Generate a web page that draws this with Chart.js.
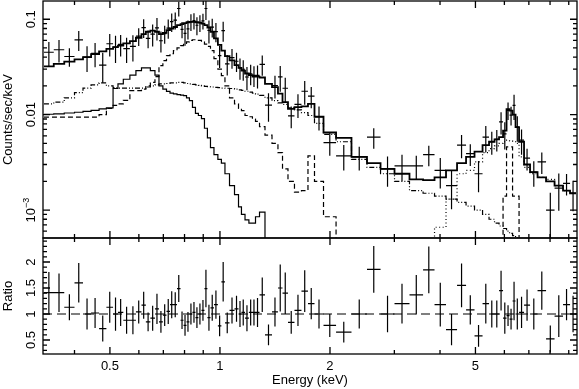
<!DOCTYPE html>
<html>
<head>
<meta charset="utf-8">
<script src="https://cdn.jsdelivr.net/npm/chart.js@4.4.1/dist/chart.umd.min.js"></script>
<style>
  html, body { margin: 0; padding: 0; background: #fff; }
  #wrap { position: relative; width: 579px; height: 389px; }
  #wrap canvas { position: absolute; left: 0; top: 0; }
</style>
</head>
<body>
<div id="wrap">
  <canvas id="specTop" width="579" height="389"></canvas>
  <canvas id="specRatio" width="579" height="389"></canvas>
</div>
<script>
// ===================================================================
// data (channel bins, keV)
var binEdges = [
  0.330, 0.351, 0.375, 0.400, 0.422, 0.444, 0.467, 0.489, 0.510, 0.526,
  0.544, 0.567, 0.589, 0.610, 0.627, 0.645, 0.664, 0.681, 0.698, 0.714,
  0.730, 0.746, 0.763, 0.780, 0.795, 0.810, 0.825, 0.841, 0.857, 0.873,
  0.890, 0.907, 0.924, 0.942, 0.963, 0.987, 1.009, 1.032, 1.062, 1.096,
  1.124, 1.145, 1.171, 1.200, 1.227, 1.251, 1.283, 1.328, 1.388, 1.441,
  1.483, 1.535, 1.599, 1.671, 1.741, 1.814, 1.920, 2.078, 2.290, 2.525,
  2.750, 3.003, 3.300, 3.595, 3.864, 4.154, 4.453, 4.713, 4.971, 5.229,
  5.447, 5.639, 5.802, 5.950, 6.082, 6.198, 6.317, 6.437, 6.581, 6.791,
  7.053, 7.394, 7.801, 8.230, 8.682, 9.074, 9.423
];

// observed counts/sec/keV and 1-sigma errors
var rate = [
  0.0451, 0.0479, 0.0407, 0.0608, 0.0400, 0.0439, 0.0331, 0.0554, 0.0510, 0.0546,
  0.0493, 0.0519, 0.0666, 0.0819, 0.0629, 0.0699, 0.0814, 0.0595, 0.0706, 0.0809,
  0.0944, 0.0979, 0.1296, 0.0783, 0.0710, 0.0791, 0.0940, 0.0968, 0.0865, 0.0920,
  0.0963, 0.1296, 0.0763, 0.0829, 0.0743, 0.0416, 0.0761, 0.0340, 0.0396, 0.0363,
  0.0310, 0.0299, 0.0248, 0.0268, 0.0258, 0.0258, 0.0336, 0.0126, 0.0202, 0.0249,
  0.0189, 0.0097, 0.0128, 0.0176, 0.0156, 0.0095, 0.0051, 0.0037, 0.0036, 0.0058,
  0.0027, 0.0029, 0.0029, 0.0038, 0.0026, 0.0018, 0.0048, 0.0039, 0.0024, 0.0058,
  0.0052, 0.0055, 0.0084, 0.0063, 0.0111, 0.0099, 0.0125, 0.0074, 0.0054, 0.0035,
  0.0025, 0.0032, 0.0010, 0.0017, 0.0019, 0.0015
];
var rateErr = [
  0.0128, 0.0126, 0.0090, 0.0144, 0.0120, 0.0125, 0.0115, 0.0147, 0.0163, 0.0138,
  0.0146, 0.0159, 0.0141, 0.0182, 0.0133, 0.0182, 0.0215, 0.0147, 0.0151, 0.0185,
  0.0208, 0.0199, 0.0226, 0.0151, 0.0182, 0.0177, 0.0188, 0.0188, 0.0186, 0.0184,
  0.0180, 0.0313, 0.0205, 0.0185, 0.0170, 0.0108, 0.0179, 0.0082, 0.0093, 0.0083,
  0.0078, 0.0073, 0.0068, 0.0065, 0.0063, 0.0070, 0.0081, 0.0042, 0.0054, 0.0075,
  0.0054, 0.0025, 0.0036, 0.0049, 0.0039, 0.0027, 0.0014, 0.0011, 0.0010, 0.0014,
  0.00095, 0.0009, 0.0008, 0.00093, 0.00092, 0.00078, 0.0013, 0.0010, 0.00086, 0.0018,
  0.0014, 0.0014, 0.0022, 0.0020, 0.0023, 0.0022, 0.0037, 0.0022, 0.0016, 0.0009,
  0.00075, 0.00081, 0.00052, 0.00072, 0.00048, 0.00053
];

// data / model
var ratio = [
  1.41, 1.41, 1.13, 1.60, 1.00, 1.02, 0.72, 1.13, 1.00, 1.03,
  0.88, 0.88, 1.04, 1.17, 0.85, 0.92, 1.10, 0.85, 0.98, 1.05,
  1.18, 1.18, 1.49, 0.88, 0.78, 0.85, 1.00, 1.03, 0.93, 1.00,
  1.07, 1.49, 0.93, 1.12, 1.18, 0.77, 1.62, 0.83, 1.07, 1.10,
  1.00, 1.03, 0.92, 1.03, 1.03, 1.03, 1.37, 0.60, 1.04, 1.50,
  1.40, 0.84, 1.07, 1.44, 1.20, 1.00, 0.78, 0.65, 1.00, 1.86,
  1.00, 1.20, 1.37, 1.85, 1.18, 0.70, 1.55, 1.08, 0.58, 1.20,
  1.00, 1.00, 1.45, 0.92, 0.97, 0.90, 1.25, 1.00, 1.03, 1.17,
  1.00, 1.45, 0.52, 0.96, 1.18, 1.00
];
var ratioErr = [
  0.40, 0.37, 0.25, 0.38, 0.30, 0.29, 0.25, 0.30, 0.32, 0.26,
  0.26, 0.27, 0.22, 0.26, 0.18, 0.24, 0.29, 0.21, 0.21, 0.24,
  0.26, 0.24, 0.26, 0.17, 0.20, 0.19, 0.20, 0.20, 0.20, 0.20,
  0.20, 0.36, 0.25, 0.25, 0.27, 0.20, 0.38, 0.20, 0.25, 0.25,
  0.25, 0.25, 0.25, 0.25, 0.25, 0.28, 0.33, 0.20, 0.28, 0.45,
  0.40, 0.22, 0.30, 0.40, 0.30, 0.28, 0.22, 0.20, 0.28, 0.45,
  0.35, 0.38, 0.38, 0.45, 0.42, 0.30, 0.42, 0.28, 0.21, 0.38,
  0.26, 0.26, 0.38, 0.30, 0.20, 0.20, 0.37, 0.30, 0.30, 0.30,
  0.30, 0.37, 0.26, 0.40, 0.30, 0.35
];

// folded model: total and components
var modelTotal = [
  0.032, 0.034, 0.036, 0.038, 0.040, 0.043, 0.046, 0.049, 0.051, 0.053,
  0.056, 0.059, 0.064, 0.070, 0.074, 0.076, 0.074, 0.070, 0.072, 0.077,
  0.080, 0.083, 0.087, 0.089, 0.091, 0.093, 0.094, 0.094, 0.093, 0.092,
  0.090, 0.087, 0.082, 0.074, 0.063, 0.054, 0.047, 0.041, 0.037, 0.033,
  0.031, 0.029, 0.027, 0.026, 0.025, 0.025, 0.0245, 0.021, 0.0194, 0.0166,
  0.0135, 0.0115, 0.0120, 0.0122, 0.0130, 0.0095, 0.0065, 0.0057, 0.0036, 0.0031,
  0.0027, 0.0024, 0.0021, 0.00206, 0.0022, 0.0026, 0.0031, 0.0036, 0.0041, 0.0048,
  0.0052, 0.0055, 0.0058, 0.0068, 0.0114, 0.0110, 0.0100, 0.0074, 0.0052, 0.0030,
  0.0025, 0.0022, 0.0020, 0.0018, 0.0016, 0.0015
];
var compSoft = [
  0.0101, 0.0102, 0.0104, 0.0106, 0.0108, 0.0111, 0.0115, 0.0118, 0.0188, 0.021,
  0.0235, 0.026, 0.029, 0.031, 0.031, 0.029, 0.026, 0.020, 0.0185, 0.0175,
  0.0168, 0.0165, 0.0162, 0.0160, 0.0158, 0.0150, 0.0140, 0.0119, 0.0103, 0.0098,
  0.0091, 0.0072, 0.0057, 0.0045, 0.0038, 0.0034, 0.0031, 0.0024, 0.0018, 0.00145,
  0.00108, 0.0009, 0.00079, 0.00073, 0.00073, 0.00085, 0.00095, 0, 0, 0,
  0, 0, 0, 0, 0, 0, 0, 0, 0, 0,
  0, 0, 0, 0, 0, 0, 0, 0, 0, 0,
  0, 0, 0, 0, 0, 0, 0, 0, 0, 0,
  0, 0, 0, 0, 0, 0
];
var compHot = [
  0.0094, 0.0094, 0.0094, 0.0094, 0.0094, 0.0094, 0.0100, 0.0116, 0.0125, 0.0130,
  0.0141, 0.0179, 0.0179, 0.0185, 0.0200, 0.0218, 0.0250, 0.0327, 0.0368, 0.0415,
  0.0435, 0.0470, 0.0500, 0.0530, 0.0560, 0.0580, 0.0600, 0.0610, 0.0610, 0.0600,
  0.0580, 0.0550, 0.0520, 0.0470, 0.0387, 0.0300, 0.0257, 0.0200, 0.0150, 0.0130,
  0.0116, 0.0110, 0.0098, 0.0095, 0.0090, 0.0085, 0.0075, 0.0061, 0.0050, 0.0040,
  0.0027, 0.0020, 0.00154, 0.0016, 0.0037, 0.0020, 0.00085, 0, 0, 0,
  0, 0, 0, 0, 0, 0, 0, 0, 0, 0,
  0, 0, 0, 0, 0, 0, 0, 0, 0, 0,
  0, 0, 0, 0, 0, 0
];
var compPow = [
  0.0130, 0.0135, 0.0150, 0.0170, 0.0190, 0.0205, 0.0215, 0.0200, 0.0192, 0.0190,
  0.0190, 0.0190, 0.0190, 0.0190, 0.0195, 0.0200, 0.0205, 0.0210, 0.0210, 0.0212,
  0.0215, 0.0215, 0.0218, 0.0218, 0.0215, 0.0212, 0.0210, 0.0208, 0.0205, 0.0203,
  0.0200, 0.0198, 0.0196, 0.0195, 0.0193, 0.0192, 0.0190, 0.0189, 0.0188, 0.0185,
  0.0182, 0.0180, 0.0176, 0.0172, 0.0168, 0.0164, 0.0159, 0.0150, 0.0140, 0.0133,
  0.0128, 0.0118, 0.0112, 0.0105, 0.0098, 0.0081, 0.0062, 0.0052, 0.0034, 0.0028,
  0.0024, 0.0020, 0.0016, 0.0015, 0.0014, 0.0013, 0.0012, 0.0011, 0.00100, 0.00090,
  0.00080, 0.00073, 0.00068, 0.00064, 0.00060, 0.00057, 0.00054, 0.00051, 0, 0,
  0, 0, 0, 0, 0, 0
];
var compRefl = [
  0, 0, 0, 0, 0, 0, 0, 0, 0, 0,
  0, 0, 0, 0, 0, 0, 0, 0, 0, 0,
  0, 0, 0, 0, 0, 0, 0, 0, 0, 0,
  0, 0, 0, 0, 0, 0, 0, 0, 0, 0,
  0, 0, 0, 0, 0, 0, 0, 0, 0, 0,
  0, 0, 0, 0, 0, 0, 0, 0, 0, 0,
  0, 0, 0, 0, 0.00066, 0.0013, 0.0024, 0.0026, 0.0032, 0.0040,
  0.0044, 0.0047, 0.0050, 0.0052, 0.0054, 0.0053, 0.0052, 0.0050, 0.0036, 0.0028,
  0.0024, 0.0022, 0.0021, 0.0018, 0.0016, 0.0015
];
var compFe = [
  0, 0, 0, 0, 0, 0, 0, 0, 0, 0,
  0, 0, 0, 0, 0, 0, 0, 0, 0, 0,
  0, 0, 0, 0, 0, 0, 0, 0, 0, 0,
  0, 0, 0, 0, 0, 0, 0, 0, 0, 0,
  0, 0, 0, 0, 0, 0, 0, 0, 0, 0,
  0, 0, 0, 0, 0, 0, 0, 0, 0, 0,
  0, 0, 0, 0, 0, 0, 0, 0, 0, 0,
  0, 0, 0, 0.0014, 0.0046, 0.0046, 0.0014, 0.0014, 0, 0,
  0, 0, 0, 0, 0, 0
];

// ticks
var energyTicks = [0.5, 1, 2, 5];
var energyMinor = [0.4, 0.6, 0.7, 0.8, 0.9, 3, 4, 6, 7, 8, 9];
var countTicks = [0.001, 0.01, 0.1];
var countTickText = ['10^\u22123', '0.01', '0.1'];
var ratioTicks = [0.5, 1, 1.5, 2];
var ratioTickText = ['0.5', '1', '1.5', '2'];

// ===================================================================
// axis ranges
var E_MIN = 0.328, E_MAX = 9.48;
var C_MIN = 5.09e-4, C_MAX = 0.1554;
var R_MIN = 0.231, R_MAX = 2.462;

var FONT = '13px "Liberation Sans", Arial, sans-serif';
var SUP_FONT = '9px "Liberation Sans", Arial, sans-serif';
var INK = '#000';

// histogram outline: each bin drawn flat between its edges
function stepLine(vals) {
  var pts = [];
  for (var i = 0; i < vals.length; i++) {
    var v = vals[i] > 0 ? vals[i] : 1e-7;
    pts.push({x: binEdges[i], y: v}, {x: binEdges[i + 1], y: v});
  }
  return pts;
}

// crosses: x bar = bin width, y bar = error; nulls break the path
function crosses(vals, errs, floor) {
  var pts = [];
  for (var i = 0; i < vals.length; i++) {
    var lo = binEdges[i], hi = binEdges[i + 1], xc = Math.sqrt(lo * hi);
    pts.push({x: lo, y: vals[i]}, {x: hi, y: vals[i]}, {x: xc, y: null});
    pts.push({x: xc, y: Math.max(vals[i] - errs[i], floor)}, {x: xc, y: vals[i] + errs[i]}, {x: xc, y: null});
  }
  return pts;
}

function ds(data, width, dash) {
  return {
    data: data, borderColor: INK, borderWidth: width, borderDash: dash || [],
    pointRadius: 0, fill: false, tension: 0, spanGaps: false
  };
}

function rotLabel(ctx, text, x, y, font) {
  var parts = text.split('^');
  ctx.save();
  ctx.translate(x, y);
  ctx.rotate(-Math.PI / 2);
  ctx.textAlign = 'left';
  ctx.textBaseline = 'alphabetic';
  ctx.font = font;
  var w0 = ctx.measureText(parts[0]).width, w1 = 0;
  if (parts[1]) { ctx.font = SUP_FONT; w1 = ctx.measureText(parts[1]).width; }
  var x0 = -(w0 + w1) / 2;
  ctx.font = font;
  ctx.fillText(parts[0], x0, 0);
  if (parts[1]) { ctx.font = SUP_FONT; ctx.fillText(parts[1], x0 + w0, -6); }
  ctx.restore();
}

// frame + inward ticks on all four sides
function drawFrame(ctx, a, sx, sy, yMajor, yMinor) {
  ctx.strokeStyle = INK;
  ctx.lineWidth = 1.3;
  ctx.strokeRect(a.left, a.top, a.right - a.left, a.bottom - a.top);
  ctx.beginPath();
  energyTicks.forEach(function(v) {
    var p = sx.getPixelForValue(v);
    ctx.moveTo(p, a.top); ctx.lineTo(p, a.top + 7);
    ctx.moveTo(p, a.bottom); ctx.lineTo(p, a.bottom - 7);
  });
  energyMinor.forEach(function(v) {
    var p = sx.getPixelForValue(v);
    ctx.moveTo(p, a.top); ctx.lineTo(p, a.top + 4);
    ctx.moveTo(p, a.bottom); ctx.lineTo(p, a.bottom - 4);
  });
  yMajor.forEach(function(v) {
    var p = sy.getPixelForValue(v);
    ctx.moveTo(a.left, p); ctx.lineTo(a.left + 7, p);
    ctx.moveTo(a.right, p); ctx.lineTo(a.right - 7, p);
  });
  yMinor.forEach(function(v) {
    var p = sy.getPixelForValue(v);
    if (p < a.top + 1 || p > a.bottom - 1) return;
    ctx.moveTo(a.left, p); ctx.lineTo(a.left + 4, p);
    ctx.moveTo(a.right, p); ctx.lineTo(a.right - 4, p);
  });
  ctx.stroke();
}

var countMinor = [];
[1e-4, 1e-3, 1e-2, 1e-1].forEach(function(d) {
  for (var m = 2; m <= 9; m++) countMinor.push(m * d);
});
var ratioMinor = [];
for (var k = 3; k <= 24; k++) ratioMinor.push(k / 10);

var topAxes = {
  id: 'topAxes',
  afterDraw: function(chart) {
    var ctx = chart.ctx, a = chart.chartArea;
    var sx = chart.scales.x, sy = chart.scales.y;
    ctx.save();
    drawFrame(ctx, a, sx, sy, countTicks, countMinor);
    ctx.fillStyle = INK;
    countTicks.forEach(function(v, i) {
      rotLabel(ctx, countTickText[i], 35, sy.getPixelForValue(v), FONT);
    });
    rotLabel(ctx, 'Counts/sec/keV', 12, (a.top + a.bottom) / 2, FONT);
    ctx.restore();
  }
};

var ratioAxes = {
  id: 'ratioAxes',
  afterDraw: function(chart) {
    var ctx = chart.ctx, a = chart.chartArea;
    var sx = chart.scales.x, sy = chart.scales.y;
    ctx.save();
    drawFrame(ctx, a, sx, sy, ratioTicks, ratioMinor);
    ctx.fillStyle = INK;
    ratioTicks.forEach(function(v, i) {
      rotLabel(ctx, ratioTickText[i], 35, sy.getPixelForValue(v), FONT);
    });
    rotLabel(ctx, 'Ratio', 12, (a.top + a.bottom) / 2, FONT);
    ctx.font = FONT;
    ctx.textAlign = 'center';
    ctx.textBaseline = 'alphabetic';
    energyTicks.forEach(function(v) {
      ctx.fillText(String(v), sx.getPixelForValue(v), 370);
    });
    ctx.fillText('Energy (keV)', (a.left + a.right) / 2, 384);
    ctx.restore();
  }
};

function baseOptions(pad, yScale) {
  return {
    responsive: false,
    animation: false,
    devicePixelRatio: 1,
    events: [],
    layout: {padding: pad},
    plugins: {legend: {display: false}, tooltip: {enabled: false}},
    scales: {
      x: {type: 'logarithmic', bounds: 'data', min: E_MIN, max: E_MAX, display: false},
      y: yScale
    }
  };
}

document.addEventListener('DOMContentLoaded', function() {
  new Chart(document.getElementById('specTop'), {
    type: 'line',
    data: {
      datasets: [
        ds(stepLine(compSoft), 1.2),
        ds(stepLine(compHot), 1.2, [5, 3]),
        ds(stepLine(compPow), 1.2, [5, 2, 1, 2, 1, 2]),
        ds(stepLine(compRefl), 1.2, [1, 2.5]),
        ds(stepLine(compFe), 1.2, [5, 3]),
        ds(stepLine(modelTotal), 1.8),
        ds(crosses(rate, rateErr, 1e-7), 1.2)
      ]
    },
    options: baseOptions({left: 43, top: 1, right: 2, bottom: 151},
      {type: 'logarithmic', bounds: 'data', min: C_MIN, max: C_MAX, display: false}),
    plugins: [topAxes]
  });

  new Chart(document.getElementById('specRatio'), {
    type: 'line',
    data: {
      datasets: [
        ds([{x: E_MIN, y: 1}, {x: E_MAX, y: 1}], 1.2, [9, 5]),
        ds(crosses(ratio, ratioErr, -1), 1.2)
      ]
    },
    options: baseOptions({left: 43, top: 238, right: 2, bottom: 35},
      {type: 'linear', bounds: 'data', min: R_MIN, max: R_MAX, display: false}),
    plugins: [ratioAxes]
  });
});
</script>
</body>
</html>
